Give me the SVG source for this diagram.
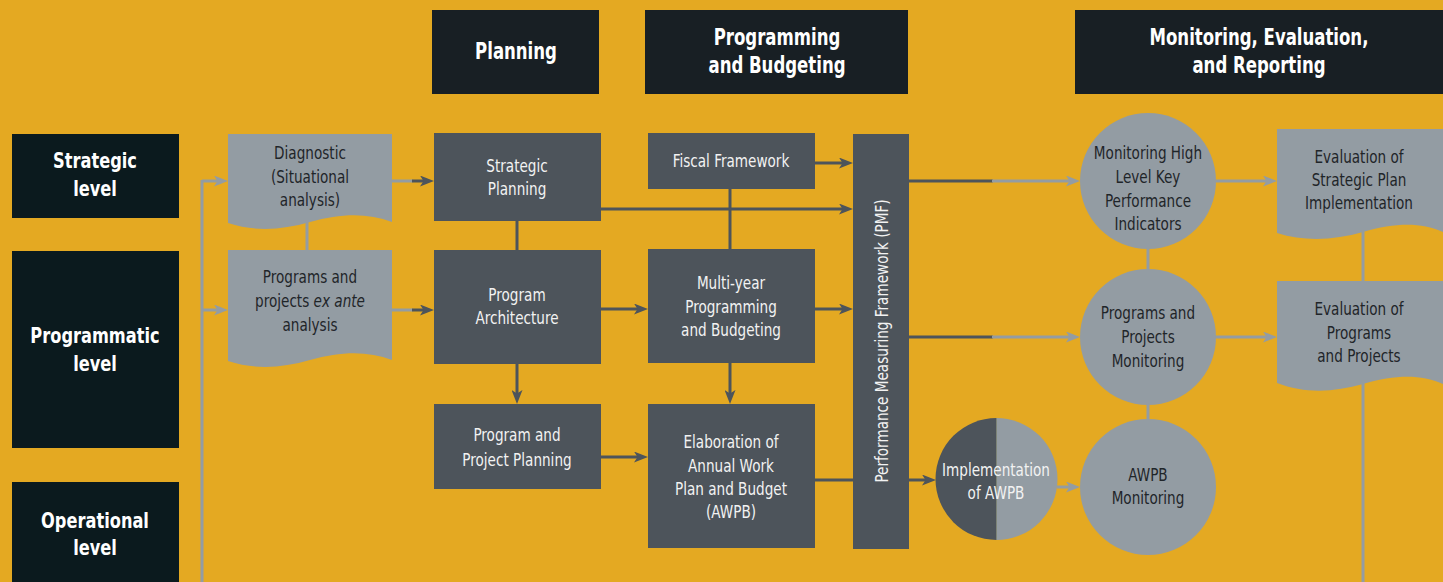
<svg xmlns="http://www.w3.org/2000/svg" width="1443" height="582" viewBox="0 0 1443 582">
  <style>
    text { font-family: 'Liberation Sans Narrow', 'DejaVu Sans Condensed', 'Liberation Sans', sans-serif; }
    .hdr { fill: #181F24; }
    .lvl { fill: #0B1A1E; }
    .dk { fill: #4D545B; }
    .lt { fill: #939CA3; }
    .th { font-size: 23px; font-weight: bold; fill: #FFFFFF; text-anchor: middle; }
    .tl { font-size: 22px; font-weight: bold; fill: #FFFFFF; text-anchor: middle; }
    .tw { font-size: 18px; fill: #F2F2F2; text-anchor: middle; }
    .tb { font-size: 18px; fill: #1F2529; text-anchor: middle; }
    .cd { stroke: #4D545B; stroke-width: 3; fill: none; }
    .cg { stroke: #939CA3; stroke-width: 3; fill: none; }
  </style>
  <defs>
    <marker id="ad" viewBox="0 0 14 11" refX="8" refY="5.5" markerWidth="14" markerHeight="11" markerUnits="userSpaceOnUse" orient="auto">
      <path d="M0,0 L14,5.5 L0,11 L3.5,5.5 Z" fill="#4D545B"/>
    </marker>
    <marker id="ag" viewBox="0 0 14 11" refX="8" refY="5.5" markerWidth="14" markerHeight="11" markerUnits="userSpaceOnUse" orient="auto">
      <path d="M0,0 L14,5.5 L0,11 L3.5,5.5 Z" fill="#939CA3"/>
    </marker>
  </defs>
  <rect x="0" y="0" width="1443" height="582" fill="#E4A922"/>

  <g id="connectors">
    <line class="cg" x1="202" y1="180" x2="202" y2="582"/>
    <line class="cg" x1="202" y1="181" x2="222" y2="181" marker-end="url(#ag)"/>
    <line class="cg" x1="202" y1="310" x2="222" y2="310" marker-end="url(#ag)"/>
    <line class="cg" x1="392" y1="181" x2="413" y2="181"/>
    <line class="cd" x1="412" y1="181" x2="428" y2="181" marker-end="url(#ad)"/>
    <line class="cg" x1="392" y1="310" x2="413" y2="310"/>
    <line class="cd" x1="412" y1="310" x2="428" y2="310" marker-end="url(#ad)"/>
    <line class="cg" x1="307" y1="220" x2="307" y2="252"/>
    <line class="cd" x1="517" y1="221" x2="517" y2="250"/>
    <line class="cd" x1="517" y1="364" x2="517" y2="398" marker-end="url(#ad)"/>
    <line class="cd" x1="601" y1="309" x2="642" y2="309" marker-end="url(#ad)"/>
    <line class="cd" x1="601" y1="457" x2="642" y2="457" marker-end="url(#ad)"/>
    <line class="cd" x1="730" y1="189" x2="730" y2="249"/>
    <line class="cd" x1="730" y1="363" x2="730" y2="398" marker-end="url(#ad)"/>
    <line class="cd" x1="815" y1="163" x2="847" y2="163" marker-end="url(#ad)"/>
    <line class="cd" x1="601" y1="209" x2="847" y2="209" marker-end="url(#ad)"/>
    <line class="cd" x1="815" y1="309" x2="847" y2="309" marker-end="url(#ad)"/>
    <line class="cd" x1="815" y1="480" x2="853" y2="480"/>
    <line class="cd" x1="909" y1="480" x2="930" y2="480" marker-end="url(#ad)"/>
    <line class="cd" x1="909" y1="181" x2="993" y2="181"/>
    <line class="cg" x1="992" y1="181" x2="1074" y2="181" marker-end="url(#ag)"/>
    <line class="cd" x1="909" y1="337" x2="993" y2="337"/>
    <line class="cg" x1="992" y1="337" x2="1074" y2="337" marker-end="url(#ag)"/>
    <line class="cg" x1="1057" y1="487" x2="1074" y2="487" marker-end="url(#ag)"/>
    <line class="cg" x1="1216" y1="181" x2="1271" y2="181" marker-end="url(#ag)"/>
    <line class="cg" x1="1216" y1="337" x2="1271" y2="337" marker-end="url(#ag)"/>
    <line class="cg" x1="1148" y1="247" x2="1148" y2="270"/>
    <line class="cg" x1="1148" y1="403" x2="1148" y2="421"/>
    <line class="cg" x1="1363" y1="230" x2="1363" y2="283"/>
    <line class="cg" x1="1363" y1="380" x2="1363" y2="582"/>
  </g>

  <g id="hdr-planning">
    <rect class="hdr" x="432" y="10" width="167" height="84"/>
    <g transform="matrix(0.8 0 0 1 103.2 0)">
      <text class="th" x="516" y="59">Planning</text>
    </g>
  </g>
  <g id="hdr-programming">
    <rect class="hdr" x="645" y="10" width="263" height="84"/>
    <g transform="matrix(0.8 0 0 1 155.4 0)">
      <text class="th" x="777" y="45">Programming</text>
      <text class="th" x="777" y="73">and Budgeting</text>
    </g>
  </g>
  <g id="hdr-monitoring">
    <rect class="hdr" x="1075" y="10" width="368" height="84"/>
    <g transform="matrix(0.8 0 0 1 251.8 0)">
      <text class="th" x="1259" y="45">Monitoring, Evaluation,</text>
      <text class="th" x="1259" y="73">and Reporting</text>
    </g>
  </g>

  <g id="lvl-strategic">
    <rect class="lvl" x="12" y="134" width="167" height="84"/>
    <g transform="matrix(0.82 0 0 1 17.1 0)">
      <text class="tl" x="95" y="168">Strategic</text>
      <text class="tl" x="95" y="196">level</text>
    </g>
  </g>
  <g id="lvl-programmatic">
    <rect class="lvl" x="12" y="251" width="167" height="197"/>
    <g transform="matrix(0.82 0 0 1 17.1 0)">
      <text class="tl" x="95" y="343">Programmatic</text>
      <text class="tl" x="95" y="371">level</text>
    </g>
  </g>
  <g id="lvl-operational">
    <rect class="lvl" x="12" y="482" width="167" height="100"/>
    <g transform="matrix(0.82 0 0 1 17.1 0)">
      <text class="tl" x="95" y="528">Operational</text>
      <text class="tl" x="95" y="555">level</text>
    </g>
  </g>

  <g id="diagnostic">
    <path class="lt" d="M228,134 H392 V222 C368,213 342,213 310,222 C282,230 255,232 228,223 Z"/>
    <g transform="matrix(0.84 0 0 1 49.6 0)">
      <text class="tb" x="310" y="159">Diagnostic</text>
      <text class="tb" x="310" y="183">(Situational</text>
      <text class="tb" x="310" y="206">analysis)</text>
    </g>
  </g>
  <g id="exante">
    <path class="lt" d="M228,250 H392 V360 C368,351 342,351 310,360 C282,368 255,370 228,361 Z"/>
    <g transform="matrix(0.84 0 0 1 49.6 0)">
      <text class="tb" x="310" y="283">Programs and</text>
      <text class="tb" x="310" y="307">projects <tspan font-style="italic">ex ante</tspan></text>
      <text class="tb" x="310" y="331">analysis</text>
    </g>
  </g>

  <g id="strategic-planning">
    <rect class="dk" x="434" y="133" width="167" height="88"/>
    <g transform="matrix(0.84 0 0 1 82.72 0)">
      <text class="tw" x="517" y="172">Strategic</text>
      <text class="tw" x="517" y="195">Planning</text>
    </g>
  </g>
  <g id="program-architecture">
    <rect class="dk" x="434" y="250" width="167" height="114"/>
    <g transform="matrix(0.84 0 0 1 82.72 0)">
      <text class="tw" x="517" y="301">Program</text>
      <text class="tw" x="517" y="324">Architecture</text>
    </g>
  </g>
  <g id="program-project-planning">
    <rect class="dk" x="434" y="404" width="167" height="85"/>
    <g transform="matrix(0.84 0 0 1 82.72 0)">
      <text class="tw" x="517" y="441">Program and</text>
      <text class="tw" x="517" y="466">Project Planning</text>
    </g>
  </g>
  <g id="fiscal-framework">
    <rect class="dk" x="648" y="133" width="167" height="56"/>
    <g transform="matrix(0.84 0 0 1 116.96 0)">
      <text class="tw" x="731" y="167">Fiscal Framework</text>
    </g>
  </g>
  <g id="multi-year">
    <rect class="dk" x="648" y="249" width="167" height="114"/>
    <g transform="matrix(0.84 0 0 1 116.96 0)">
      <text class="tw" x="731" y="289">Multi-year</text>
      <text class="tw" x="731" y="313">Programming</text>
      <text class="tw" x="731" y="336">and Budgeting</text>
    </g>
  </g>
  <g id="awpb-elaboration">
    <rect class="dk" x="648" y="404" width="167" height="144"/>
    <g transform="matrix(0.84 0 0 1 116.96 0)">
      <text class="tw" x="731" y="448">Elaboration of</text>
      <text class="tw" x="731" y="472">Annual Work</text>
      <text class="tw" x="731" y="495">Plan and Budget</text>
      <text class="tw" x="731" y="518">(AWPB)</text>
    </g>
  </g>
  <g id="pmf">
    <rect class="dk" x="853" y="134" width="56" height="415"/>
    <text class="tw" x="882" y="347" transform="rotate(-90 882 341) matrix(0.84 0 0 1 141.12 0)">Performance Measuring Framework (PMF)</text>
  </g>

  <g id="implementation-awpb">
    <path class="dk" d="M996.5,418 A61,61 0 0,0 996.5,540 Z"/>
    <path class="lt" d="M996.5,418 A61,61 0 0,1 996.5,540 Z"/>
    <line x1="996.5" y1="418" x2="996.5" y2="540" stroke="#7D8478" stroke-width="1"/>
    <g transform="matrix(0.84 0 0 1 159.36 0)">
      <text class="tw" x="996" y="476">Implementation</text>
      <text class="tw" x="996" y="499">of AWPB</text>
    </g>
  </g>

  <g id="monitoring-kpi">
    <circle class="lt" cx="1148" cy="181" r="68"/>
    <g transform="matrix(0.84 0 0 1 183.68 0)">
      <text class="tb" x="1148" y="159">Monitoring High</text>
      <text class="tb" x="1148" y="183">Level Key</text>
      <text class="tb" x="1148" y="207">Performance</text>
      <text class="tb" x="1148" y="230">Indicators</text>
    </g>
  </g>
  <g id="programs-monitoring">
    <circle class="lt" cx="1148" cy="337" r="68"/>
    <g transform="matrix(0.84 0 0 1 183.68 0)">
      <text class="tb" x="1148" y="319">Programs and</text>
      <text class="tb" x="1148" y="343">Projects</text>
      <text class="tb" x="1148" y="367">Monitoring</text>
    </g>
  </g>
  <g id="awpb-monitoring">
    <circle class="lt" cx="1148" cy="487" r="68"/>
    <g transform="matrix(0.84 0 0 1 183.68 0)">
      <text class="tb" x="1148" y="481">AWPB</text>
      <text class="tb" x="1148" y="504">Monitoring</text>
    </g>
  </g>

  <g id="eval-strategic">
    <path class="lt" d="M1277,129 H1443 V232 C1420,222 1395,223 1363,232 C1335,240 1305,242 1277,233 Z"/>
    <g transform="matrix(0.84 0 0 1 217.44 0)">
      <text class="tb" x="1359" y="163">Evaluation of</text>
      <text class="tb" x="1359" y="186">Strategic Plan</text>
      <text class="tb" x="1359" y="209">Implementation</text>
    </g>
  </g>
  <g id="eval-programs">
    <path class="lt" d="M1277,281 H1443 V384 C1420,374 1395,375 1363,384 C1335,392 1305,394 1277,383 Z"/>
    <g transform="matrix(0.84 0 0 1 217.44 0)">
      <text class="tb" x="1359" y="315">Evaluation of</text>
      <text class="tb" x="1359" y="339">Programs</text>
      <text class="tb" x="1359" y="362">and Projects</text>
    </g>
  </g>
</svg>
